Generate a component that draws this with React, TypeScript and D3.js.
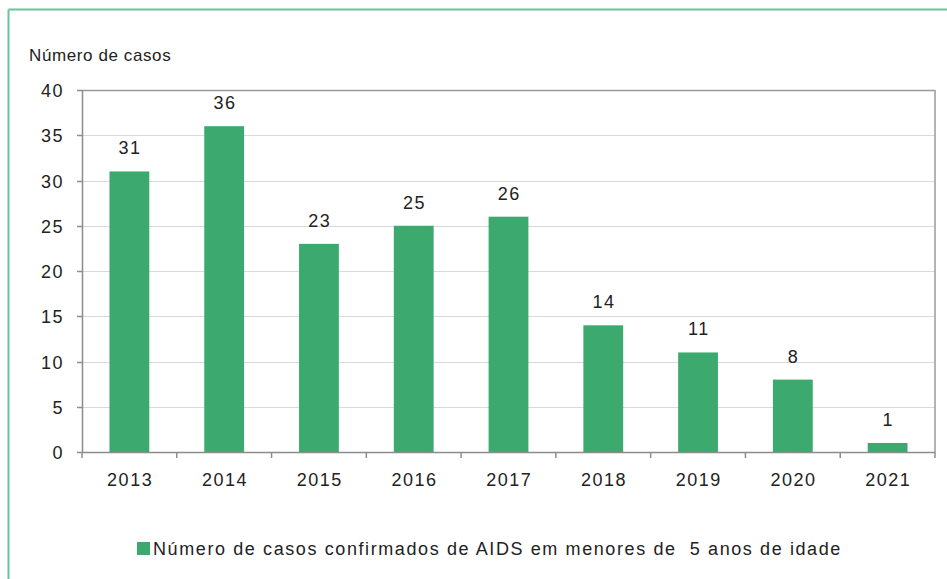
import * as d3 from 'd3';

const WIDTH = 947;
const HEIGHT = 579;
const MARGIN = { top: 90, right: 12, bottom: 127, left: 82 };

const years = ['2013', '2014', '2015', '2016', '2017', '2018', '2019', '2020', '2021'];
const cases = [31, 36, 23, 25, 26, 14, 11, 8, 1];
const yTicks = [0, 5, 10, 15, 20, 25, 30, 35, 40];

const BAR = '#3caa6e';
const FONT = '"Liberation Sans", Arial, sans-serif';
const LS = 1.5;

const App = () => {
    const boundsWidth = WIDTH - MARGIN.left - MARGIN.right;
    const boundsHeight = HEIGHT - MARGIN.top - MARGIN.bottom;

    const xScale = d3.scaleBand().domain(years).range([0, boundsWidth]).paddingInner(0.58).paddingOuter(0.29);
    const yScale = d3.scaleLinear().domain([0, 40]).range([boundsHeight, 0]);
    const step = xScale.step();
    const x0 = xScale(years[0]) - step * 0.29;

    return (
        <div style={{ position: 'absolute', left: 0, top: 0 }}>
            <svg width={WIDTH} height={HEIGHT} style={{ display: 'block', fontFamily: FONT }}>
                <rect x={0} y={0} width={WIDTH} height={HEIGHT} fill="#fff" />
                {/* outer frame */}
                <line x1={8.5} x2={WIDTH} y1={9.5} y2={9.5} stroke="#6cc39a" strokeWidth={2} />
                <line x1={8.5} x2={8.5} y1={9.5} y2={HEIGHT} stroke="#6cc39a" strokeWidth={2} />

                <text x={29} y={61} fontSize={17} letterSpacing={0.6} fill="#222">Número de casos</text>

                <g transform={`translate(${MARGIN.left}, ${MARGIN.top})`}>
                    {yTicks.filter((t) => t > 0 && t < 40).map((t) => (
                        <line key={t} x1={0} x2={boundsWidth} y1={Math.round(yScale(t)) + 0.5} y2={Math.round(yScale(t)) + 0.5} stroke="#d9d9d9" />
                    ))}
                    {/* plot area border top/right */}
                    <line x1={0} x2={boundsWidth} y1={0.5} y2={0.5} stroke="#9a9a9a" strokeWidth={1.5} />
                    <line x1={boundsWidth} x2={boundsWidth} y1={0} y2={boundsHeight} stroke="#9a9a9a" strokeWidth={1.5} />

                    {years.map((y, i) => (
                        <g key={y}>
                            <rect x={xScale(y)} y={yScale(cases[i])} width={xScale.bandwidth()} height={boundsHeight - yScale(cases[i])} fill={BAR} />
                            <text x={xScale(y) + xScale.bandwidth() / 2 + LS / 2} y={yScale(cases[i]) - 17} textAnchor="middle" fontSize={18} letterSpacing={LS} fill="#222">{cases[i]}</text>
                            <text x={xScale(y) + xScale.bandwidth() / 2 + LS / 2} y={boundsHeight + 34} textAnchor="middle" fontSize={18} letterSpacing={LS} fill="#222">{y}</text>
                        </g>
                    ))}

                    {/* axes */}
                    <line x1={0.5} x2={0.5} y1={0} y2={boundsHeight} stroke="#8c8c8c" strokeWidth={1.5} />
                    <line x1={0} x2={boundsWidth} y1={boundsHeight + 0.5} y2={boundsHeight + 0.5} stroke="#8c8c8c" strokeWidth={1.5} />
                    {yTicks.map((t) => (
                        <g key={t}>
                            <line x1={-5} x2={0} y1={Math.round(yScale(t)) + 0.5} y2={Math.round(yScale(t)) + 0.5} stroke="#8c8c8c" strokeWidth={1.5} />
                            <text x={-18} y={yScale(t) + 7} textAnchor="end" fontSize={18} letterSpacing={LS} fill="#222">{t}</text>
                        </g>
                    ))}
                    {d3.range(years.length + 1).map((i) => (
                        <line key={i} x1={x0 + i * step} x2={x0 + i * step} y1={boundsHeight} y2={boundsHeight + 6} stroke="#8c8c8c" strokeWidth={1.5} />
                    ))}
                </g>

                {/* legend */}
                <g transform="translate(137, 555)">
                    <rect x={0} y={-13} width={13} height={13} fill={BAR} />
                    <text x={16} y={0} fontSize={18} letterSpacing={1.6} fill="#222" style={{ whiteSpace: 'pre' }}>Número de casos confirmados de AIDS em menores de  5 anos de idade</text>
                </g>
            </svg>
        </div>
    );
};

export default App;
